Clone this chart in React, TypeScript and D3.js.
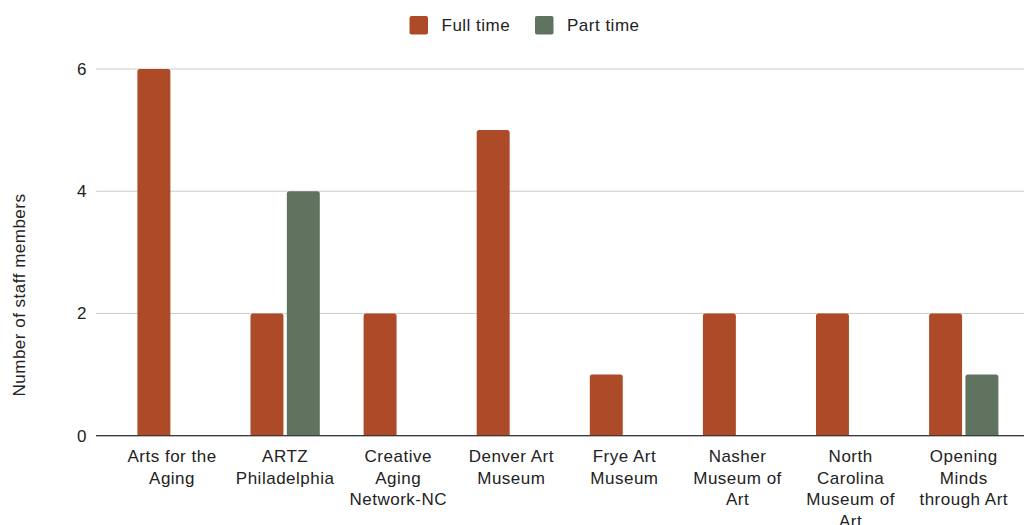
import React from "react";
import * as d3 from "d3";

// Staff counts per program
const categories = [
  "Arts for the Aging",
  "ARTZ Philadelphia",
  "Creative Aging Network-NC",
  "Denver Art Museum",
  "Frye Art Museum",
  "Nasher Museum of Art",
  "North Carolina Museum of Art",
  "Opening Minds through Art",
];
const seriesNames = ["Full time", "Part time"];
const fullTime = [6, 2, 2, 5, 1, 2, 2, 2];
const partTime = [0, 4, 0, 0, 0, 0, 0, 1];
const yTicks = [0, 2, 4, 6];
const colors = ["#ad4a28", "#5f735e"];
const yTitle = "Number of staff members";

const W = 1025;
const H = 525;
const FONT = "'Liberation Sans', Arial, sans-serif";
const FS = 17;
const LS = 0.5;

let ctx: CanvasRenderingContext2D | null = null;
function measure(s: string) {
  if (!ctx) ctx = document.createElement("canvas").getContext("2d");
  if (!ctx) return s.length * 9;
  ctx.font = `${FS}px 'Liberation Sans', Arial, sans-serif`;
  return ctx.measureText(s).width + s.length * LS;
}
function wrap(label: string, maxW: number) {
  const words = label.split(" ");
  const lines: string[] = [];
  let cur = "";
  for (const w of words) {
    const t = cur ? cur + " " + w : w;
    if (cur && measure(t) > maxW) {
      lines.push(cur);
      cur = w;
    } else cur = t;
  }
  if (cur) lines.push(cur);
  return lines;
}

function topRoundedRect(x: number, y: number, w: number, h: number, r: number) {
  const rr = Math.min(r, h, w / 2);
  return `M${x},${y + h}V${y + rr}Q${x},${y} ${x + rr},${y}H${x + w - rr}Q${x + w},${y} ${x + w},${y + rr}V${y + h}Z`;
}

export default function App() {
  const x0 = d3.scaleBand<string>().domain(categories).range([115.5, 1020.3]);
  const step = x0.bandwidth();
  const x1 = d3
    .scaleBand<string>()
    .domain(seriesNames)
    .range([21.9, step - 21.9])
    .paddingInner(0.093);
  const y = d3.scaleLinear().domain([0, 6]).range([435.7, 69]);
  const values = [fullTime, partTime];

  return (
    <div style={{ position: "absolute", left: 0, top: 0 }}>
      <svg
        width={W}
        height={H}
        style={{ display: "block", fontFamily: FONT, letterSpacing: `${LS}px` }}
      >
        <rect width={W} height={H} fill="#fff" />
        {/* gridlines */}
        {yTicks.map((t) => (
          <g key={t}>
            <line
              x1={96}
              x2={1024}
              y1={y(t)}
              y2={y(t)}
              stroke={t === 0 ? "#333" : "#cccccc"}
              strokeWidth={1}
            />
            <text x={87} y={y(t)} dy="0.35em" textAnchor="end" fontSize={FS} fill="#222">
              {t}
            </text>
          </g>
        ))}
        {/* bars */}
        {categories.map((c, i) => (
          <g key={c} transform={`translate(${x0(c)},0)`}>
            {seriesNames.map((s, j) => {
              const v = values[j][i];
              if (!v) return null;
              return (
                <path
                  key={s}
                  d={topRoundedRect(x1(s)!, y(v), x1.bandwidth(), y(0) - y(v), 2.5)}
                  fill={colors[j]}
                />
              );
            })}
          </g>
        ))}
        <line x1={96} x2={1024} y1={y(0)} y2={y(0)} stroke="#333" strokeWidth={1} />
        {/* category labels */}
        {categories.map((c) => {
          const lines = wrap(c, 100);
          const cx = x0(c)! + step / 2;
          return (
            <text key={c} x={cx} y={462} textAnchor="middle" fontSize={FS} fill="#222">
              {lines.map((l, k) => (
                <tspan key={k} x={cx} y={462 + k * 21.5}>
                  {l}
                </tspan>
              ))}
            </text>
          );
        })}
        {/* y-axis title */}
        <text
          transform={`translate(25,295) rotate(-90)`}
          textAnchor="middle"
          fontSize={FS}
          fill="#222"
        >
          {yTitle}
        </text>
        {/* legend */}
        {seriesNames.map((s, j) => {
          const lx = j === 0 ? 409.5 : 535;
          return (
            <g key={s}>
              <rect x={lx} y={16} width={18.5} height={18.5} rx={2} fill={colors[j]} />
              <text x={lx + 32} y={30.5} fontSize={FS} fill="#222">
                {s}
              </text>
            </g>
          );
        })}
      </svg>
    </div>
  );
}
